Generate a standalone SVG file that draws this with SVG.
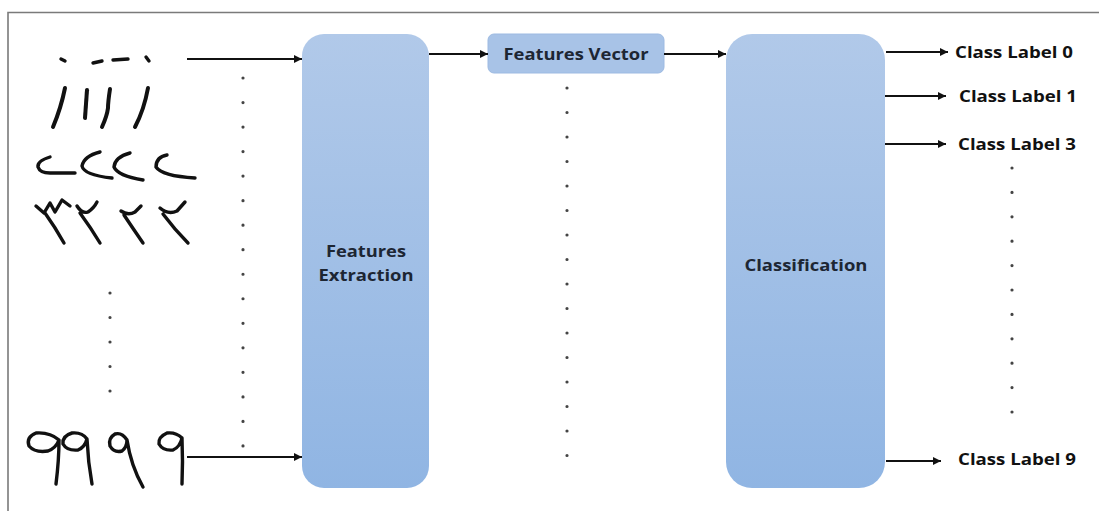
<svg xmlns="http://www.w3.org/2000/svg" width="1099" height="511" viewBox="0 0 1099 511">
  <defs>
    <linearGradient id="boxFill" x1="0" y1="0" x2="0" y2="1">
      <stop offset="0" stop-color="#b1c9e9"/>
      <stop offset="1" stop-color="#90b5e3"/>
    </linearGradient>
    <marker id="arrow" viewBox="0 0 10 10" refX="10" refY="5" markerWidth="9" markerHeight="8" markerUnits="userSpaceOnUse" orient="auto">
      <path d="M0,0 L10,5 L0,10 z" fill="#111"/>
    </marker>
    <style>
      .frame { stroke: #7a7a7a; stroke-width: 1.6; fill: none; }
      .box { fill: url(#boxFill); }
      .vec { fill: #a8c3e7; stroke: #9dbae2; stroke-width: 1; }
      .lbl { font-family: "Open Sans", "Liberation Sans", sans-serif; font-weight: bold; fill: #1d2633; text-anchor: middle; font-size: 16px; }
      .cls { font-family: "Open Sans", "Liberation Sans", sans-serif; font-weight: bold; fill: #111; font-size: 16.5px; }
      .edge { stroke: #111; stroke-width: 2; fill: none; marker-end: url(#arrow); }
      .dots { stroke: #444; stroke-width: 3.2; stroke-linecap: round; fill: none; }
      .ink { stroke: #111; stroke-width: 3.4; stroke-linecap: round; stroke-linejoin: round; fill: none; }
    </style>
  </defs>

  <rect width="1099" height="511" fill="#fff"/>

  <!-- outer frame (top and left edges) -->
  <path class="frame" d="M8,511 L8,12.5 L1099,12.5"/>

  <!-- handwritten digit samples -->
  <g id="samples" class="ink">
    <!-- zeros -->
    <path d="M61,59 L65,61"/>
    <path d="M93,63 L102,61"/>
    <path d="M113,60 L128,59"/>
    <path d="M146,57 L149,61"/>
    <!-- ones -->
    <path d="M65,88 Q61,108 53,127" stroke-width="4"/>
    <path d="M87,90 Q86,104 85,118" stroke-width="4"/>
    <path d="M110,89 Q108,102 108,108 Q107,116 102,127" stroke-width="4"/>
    <path d="M148,88 Q144,110 135,127" stroke-width="4"/>
    <!-- twos -->
    <path d="M50,157 Q37,161 38,167 Q40,173 50,173 L75,173"/>
    <path d="M100,152 Q84,156 82,166 Q84,175 112,178"/>
    <path d="M130,153 Q115,157 114,167 Q118,176 143,180"/>
    <path d="M167,155 Q156,157 156,167 Q162,176 195,178"/>
    <!-- threes / fours -->
    <path d="M36,206 L44,213 L50,203 L55,212 L62,200 L70,206 M45,213 Q55,227 64,243"/>
    <path d="M77,206 Q82,214 88,212 Q94,208 97,202 M80,213 Q91,228 100,243"/>
    <path d="M121,211 Q128,216 135,212 L141,206 M124,215 Q134,230 143,243"/>
    <path d="M160,208 Q168,215 177,211 L185,202 M163,214 Q175,230 188,243"/>
    <!-- nines -->
    <path d="M59,440 Q50,432 36,433 Q26,437 29,446 Q35,453 48,451 Q56,448 59,440 Q59,460 56,484"/>
    <path d="M87,439 Q82,432 72,433 Q62,436 63,444 Q67,451 78,450 Q85,447 87,439 Q88,462 92,484"/>
    <path d="M127,440 Q122,432 115,434 Q108,438 110,446 Q114,453 122,451 Q127,447 127,440 Q131,466 143,487"/>
    <path d="M182,438 Q176,432 167,433 Q158,437 159,444 Q163,451 173,450 Q180,447 182,438 Q183,462 182,484"/>
  </g>

  <!-- dotted continuation marks -->
  <g id="ellipses" class="dots">
    <line x1="243" y1="78" x2="243" y2="447" stroke-dasharray="0 24.53"/>
    <line x1="110" y1="293" x2="110" y2="392" stroke-dasharray="0 24.5"/>
    <line x1="567" y1="88" x2="567" y2="456" stroke-dasharray="0 24.5"/>
    <line x1="1012" y1="168" x2="1012" y2="413" stroke-dasharray="0 24.4"/>
  </g>

  <g id="features-extraction">
    <rect class="box" x="302" y="34" width="127" height="454" rx="22"/>
    <text class="lbl" x="366" y="257" textLength="80" lengthAdjust="spacingAndGlyphs">Features</text>
    <text class="lbl" x="366" y="281" textLength="95" lengthAdjust="spacingAndGlyphs">Extraction</text>
  </g>

  <g id="features-vector">
    <rect class="vec" x="488" y="34" width="176" height="39" rx="6"/>
    <text class="lbl" x="576" y="60" font-weight="600" textLength="145" lengthAdjust="spacingAndGlyphs">Features Vector</text>
  </g>

  <g id="classification">
    <rect class="box" x="726" y="34" width="159" height="454" rx="26"/>
    <text class="lbl" x="806" y="271" textLength="123" lengthAdjust="spacingAndGlyphs">Classification</text>
  </g>

  <g id="class-labels">
    <text class="cls" x="955" y="58" textLength="118" lengthAdjust="spacingAndGlyphs">Class Label 0</text>
    <text class="cls" x="959" y="102" textLength="118" lengthAdjust="spacingAndGlyphs">Class Label 1</text>
    <text class="cls" x="958" y="150" textLength="118" lengthAdjust="spacingAndGlyphs">Class Label 3</text>
    <text class="cls" x="958" y="465" textLength="118" lengthAdjust="spacingAndGlyphs">Class Label 9</text>
  </g>

  <g id="connectors">
    <line class="edge" x1="187" y1="59" x2="302" y2="59"/>
    <line class="edge" x1="187" y1="457" x2="302" y2="457"/>
    <line class="edge" x1="429" y1="54" x2="488" y2="54"/>
    <line class="edge" x1="664" y1="54" x2="726" y2="54"/>
    <line class="edge" x1="886" y1="52" x2="948" y2="52"/>
    <line class="edge" x1="885" y1="96" x2="946" y2="96"/>
    <line class="edge" x1="885" y1="144" x2="946" y2="144"/>
    <line class="edge" x1="886" y1="461" x2="941" y2="461"/>
  </g>
</svg>
